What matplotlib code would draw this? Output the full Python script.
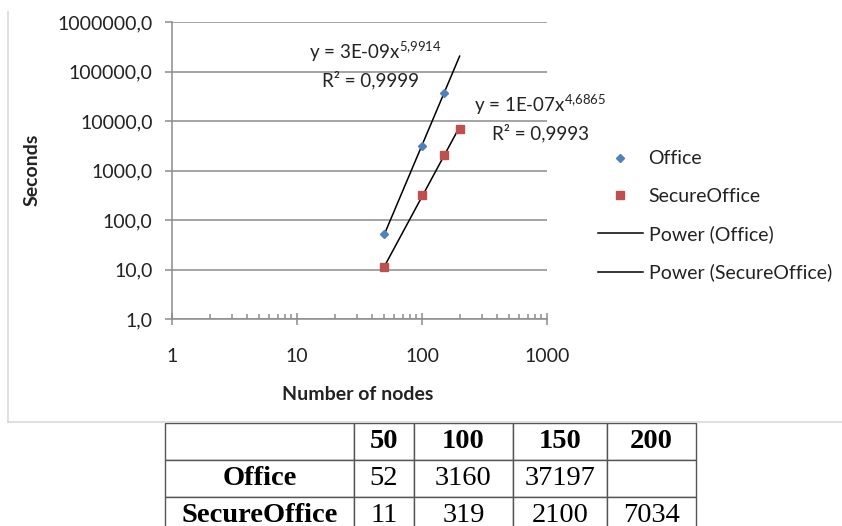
import numpy as np
import matplotlib
matplotlib.use("Agg")
import matplotlib.pyplot as plt
from matplotlib.ticker import FuncFormatter, LogLocator, FixedLocator
from matplotlib.lines import Line2D

plt.rcParams['font.family'] = ['Lato', 'DejaVu Sans']
plt.rcParams['mathtext.default'] = 'regular'

# data (seconds per number of nodes)
nodes = np.array([50, 100, 150, 200])
office = np.array([52, 3160, 37197, np.nan])
secure = np.array([11, 319, 2100, 7034])
row_names = ['Office', 'SecureOffice']
office_cells = ['52', '3160', '37197', '']
secure_cells = ['11', '319', '2100', '7034']
eq_office = ['y = 3E-09x$^{5{,}9914}$', 'R² = 0,9999']
eq_secure = ['y = 1E-07x$^{4{,}6865}$', 'R² = 0,9993']

blue = '#4F81BD'
red = '#C0504D'
grid_c = '#8c8c8c'
txt_c = '#222222'

W, H = 842, 526
fig = plt.figure(figsize=(W / 100, H / 100), dpi=100)

def px_axes(x0, y0, x1, y1):
    return fig.add_axes([x0 / W, 1 - y1 / H, (x1 - x0) / W, (y1 - y0) / H])

ax = px_axes(172, 22, 547, 319)
ax.set_xscale('log')
ax.set_yscale('log')
ax.set_xlim(1, 1000)
ax.set_ylim(1, 1e6)

# power fits in log-log space
def power_fit(x, y):
    ok = ~np.isnan(y)
    b, lna = np.polyfit(np.log(x[ok]), np.log(y[ok]), 1)
    return np.exp(lna), b

xs = np.linspace(nodes.min(), nodes.max(), 100)
a1, b1 = power_fit(nodes, office)
a2, b2 = power_fit(nodes, secure.astype(float))

ax.plot(xs, a1 * xs ** b1, color='black', lw=1.1, label='Power (Office)', zorder=3)
ax.plot(xs, a2 * xs ** b2, color='black', lw=1.1, label='Power (SecureOffice)', zorder=3)
ax.plot(nodes, office, 'D', color=blue, ms=4.5, ls='none', label='Office', zorder=4)
ax.plot(nodes, secure, 's', color=red, ms=6, ls='none', label='SecureOffice', zorder=4)

# grid and axes styling like Excel
ax.yaxis.set_major_locator(LogLocator(base=10, numticks=10))
ax.yaxis.set_minor_locator(FixedLocator([]))
ax.grid(axis='y', which='major', color=grid_c, lw=1.1)
ax.set_axisbelow(True)
for s in ['top', 'right']:
    ax.spines[s].set_visible(False)
for s in ['left', 'bottom']:
    ax.spines[s].set_color(grid_c)
    ax.spines[s].set_linewidth(1.1)
ax.yaxis.set_major_formatter(FuncFormatter(lambda v, p: f'{v:.1f}'.replace('.', ',')))
ax.xaxis.set_major_formatter(FuncFormatter(lambda v, p: f'{v:.0f}'))
ax.xaxis.set_minor_locator(LogLocator(base=10, subs=np.arange(2, 10), numticks=10))
ax.xaxis.set_minor_formatter(FuncFormatter(lambda v, p: ''))
ax.tick_params(axis='y', which='major', direction='out', length=5, width=1.1,
               color=grid_c, labelsize=14, pad=9, labelcolor=txt_c)
ax.tick_params(axis='x', which='major', direction='inout', length=8, width=1.1,
               color=grid_c, labelsize=14, pad=17, labelcolor=txt_c)
ax.tick_params(axis='x', which='minor', direction='in', length=3.5, width=1.1,
               color=grid_c)

# trendline equations
ax.text(375 / W, 1 - 52 / H, eq_office[0], transform=fig.transFigure,
        ha='center', va='center', fontsize=13.5, color=txt_c)
ax.text(370 / W, 1 - 80 / H, eq_office[1], transform=fig.transFigure,
        ha='center', va='center', fontsize=13.5, color=txt_c)
ax.text(540 / W, 1 - 105 / H, eq_secure[0], transform=fig.transFigure,
        ha='center', va='center', fontsize=13.5, color=txt_c)
ax.text(540 / W, 1 - 133 / H, eq_secure[1], transform=fig.transFigure,
        ha='center', va='center', fontsize=13.5, color=txt_c)

fig.text(32 / W, 1 - 170 / H, 'Seconds', rotation=90, ha='center', va='center',
         fontsize=14, fontweight='bold', color=txt_c)
fig.text(358 / W, 1 - 395 / H, 'Number of nodes', ha='center', va='center',
         fontsize=14, fontweight='bold', color=txt_c)

handles, labels = ax.get_legend_handles_labels()
order = [2, 3, 0, 1]
ax.legend([handles[i] for i in order], [labels[i] for i in order],
          loc='center left', bbox_to_anchor=(598 / W, 1 - 216 / H),
          bbox_transform=fig.transFigure, frameon=False, fontsize=14,
          handlelength=2.3, handletextpad=0.3, labelspacing=1.05,
          borderpad=0, borderaxespad=0, labelcolor=txt_c)

# chart border
fig.add_artist(Line2D([8 / W, 8 / W], [1 - 12 / H, 1 - 422 / H], color='#d9d9d9', lw=1.2))
fig.add_artist(Line2D([8 / W, 1], [1 - 422 / H, 1 - 422 / H], color='#d9d9d9', lw=1.2))

# data table below the chart
tax = px_axes(165, 423, 696, 534)
tax.axis('off')
col_edges = np.array([165, 354, 414, 513, 607, 696])
widths = np.diff(col_edges) / (col_edges[-1] - col_edges[0])
cells = [[''] + [str(n) for n in nodes],
         [row_names[0]] + office_cells,
         [row_names[1]] + secure_cells]
tbl = tax.table(cellText=cells, colWidths=widths, cellLoc='center', bbox=[0, 0, 1, 1])
tbl.auto_set_font_size(False)
for (r, c), cell in tbl.get_celld().items():
    cell.set_edgecolor('#555555')
    cell.set_linewidth(1.0)
    bold = (r == 0) or (c == 0)
    cell.get_text().set_fontfamily('Liberation Serif')
    cell.get_text().set_fontsize(20.5)
    cell.get_text().set_fontweight('bold' if bold else 'normal')

fig.savefig('out.png', dpi=100)
